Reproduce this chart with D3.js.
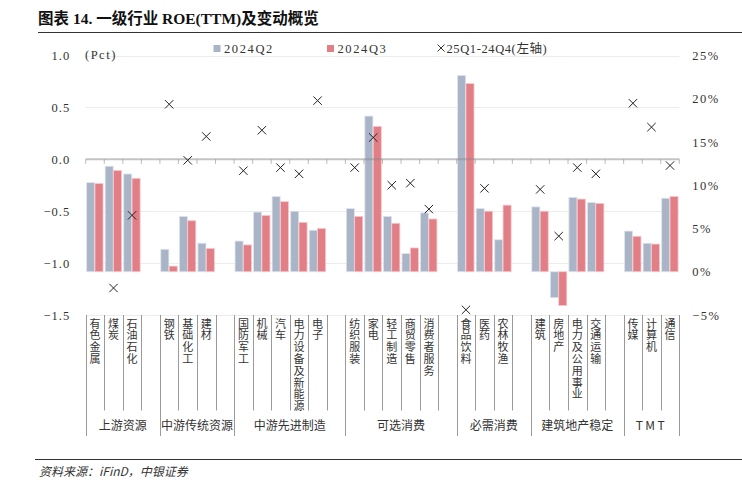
<!DOCTYPE html>
<html><head><meta charset="utf-8">
<script src="https://cdn.jsdelivr.net/npm/d3@7/dist/d3.min.js"></script>
<style>
html,body{margin:0;padding:0;background:#fff;}
svg{display:block;}
.vt{writing-mode:vertical-rl;text-orientation:upright;}
</style></head>
<body>
<svg id="chart" width="742" height="480"></svg>
<script>
// ---- data ----
const categories = ["有色金属","煤炭","石油石化","钢铁","基础化工","建材","国防军工","机械","汽车","电力设备及新能源","电子","纺织服装","家电","轻工制造","商贸零售","消费者服务","食品饮料","医药","农林牧渔","建筑","房地产","电力及公用事业","交通运输","传媒","计算机","通信"];
const groupNames = ["上游资源","中游传统资源","中游先进制造","可选消费","必需消费","建筑地产稳定","TMT"];
const groupSizes = [3,3,5,5,3,4,3];
const roeQ2 = [10.3,12.2,11.3, 2.6,6.4,3.3, 3.55,6.9,8.7,7.0,4.8, 7.3,18.0,6.4,2.1,6.8, 22.7,7.3,3.7, 7.5,-3.0,8.6,8.0, 4.7,3.3,8.5];
const roeQ3 = [10.2,11.7,10.8, 0.65,5.9,2.7, 3.1,6.5,8.1,5.7,5.0, 6.4,16.8,5.6,2.75,6.1, 21.75,7.0,7.7, 7.0,-3.9,8.4,7.9, 4.1,3.2,8.7];
const roeChange = [null,-1.24,-0.54, 0.53,-0.01,0.22, -0.11,0.28,-0.08,-0.14,0.565, -0.08,0.21,-0.25,-0.23,-0.48, -1.45,-0.28,null, -0.29,-0.74,-0.08,-0.14, 0.54,0.31,-0.06];
const seriesNames = ["2024Q2","2024Q3","25Q1-24Q4(左轴)"];
const leftTicks = [1.0,0.5,0.0,-0.5,-1.0,-1.5];
const rightTicks = [25,20,15,10,5,0,-5];

// ---- layout ----
const svg = d3.select("#chart");
const X0 = 85.7, X1 = 679.3, YTOP = 55.5, YBOT = 315;
const colQ2 = "#aab4c7", colQ3 = "#e17e86", txt = "#333";
const serif = "'Liberation Serif','Noto Sans CJK SC',serif";
const cjk = "'Noto Sans CJK SC','Liberation Serif',sans-serif";

// slots (with blank separators between groups)
const slots = [];
const groupSlots = [];
let ci = 0;
groupSizes.forEach((n, gi) => {
  const start = slots.length;
  for (let k = 0; k < n; k++) slots.push(categories[ci++]);
  if (gi < groupSizes.length - 1) slots.push("__blank" + gi);
  groupSlots.push([start, slots.length]);
});

const x = d3.scaleBand().domain(slots).range([X0, X1]).paddingInner(0).paddingOuter(0);
const xs = d3.scaleBand().domain([0,1]).range([0, x.bandwidth()]).paddingInner(0).paddingOuter(0.11);
const yL = d3.scaleLinear().domain([-1.5, 1.0]).range([YBOT, YTOP]);
const yR = d3.scaleLinear().domain([-5, 25]).range([YBOT, YTOP]);

// title
svg.append("text").attr("x", 38).attr("y", 24)
  .attr("font-family", serif).attr("font-weight", "bold").attr("font-size", 15.5)
  .attr("fill", "#111").text("图表 14. 一级行业 ROE(TTM)及变动概览");
svg.append("line").attr("x1", 38).attr("x2", 742).attr("y1", 32.5).attr("y2", 32.5)
  .attr("stroke", "#333").attr("stroke-width", 1);

// gridlines
svg.append("g").selectAll("line").data(leftTicks.filter(d => d !== 0)).join("line")
  .attr("x1", X0).attr("x2", X1)
  .attr("y1", d => Math.round(yL(d)) + 0.5).attr("y2", d => Math.round(yL(d)) + 0.5)
  .attr("stroke", "#ececec").attr("stroke-width", 1);

// left axis labels
const axL = svg.append("g").attr("transform", `translate(${X0},0)`)
  .call(d3.axisLeft(yL).tickValues(leftTicks).tickFormat(d3.format(".1f")).tickSize(0).tickPadding(15.5));
axL.select(".domain").remove();
axL.selectAll("text").attr("font-family", serif).attr("font-size", 12.5).attr("fill", txt).attr("letter-spacing", 1);

// right axis labels
const axR = svg.append("g").attr("transform", `translate(${X1},0)`)
  .call(d3.axisRight(yR).tickValues(rightTicks).tickFormat(d => d3.format("d")(d) + "%").tickSize(0).tickPadding(13));
axR.select(".domain").remove();
axR.selectAll("text").attr("font-family", serif).attr("font-size", 12.5).attr("fill", txt).attr("letter-spacing", 1.5);

svg.append("text").attr("x", 85).attr("y", 59).attr("font-family", serif).attr("font-size", 12.5)
  .attr("fill", txt).attr("letter-spacing", 1.5).text("(Pct)");

// bars
const barData = [];
categories.forEach((c, i) => {
  barData.push({c, s: 0, v: roeQ2[i]});
  barData.push({c, s: 1, v: roeQ3[i]});
});
svg.append("g").selectAll("rect").data(barData).join("rect")
  .attr("x", d => x(d.c) + xs(d.s))
  .attr("width", xs.bandwidth() - 0.3)
  .attr("y", d => Math.min(yR(d.v), yR(0)))
  .attr("height", d => Math.abs(yR(d.v) - yR(0)))
  .attr("fill", d => d.s === 0 ? colQ2 : colQ3)
  .attr("stroke", d => d.s === 0 ? "#dfe4ee" : "#f4c9cc")
  .attr("stroke-width", 0.8);

// category axis line at left-axis zero
const y0 = yL(0);
svg.append("line").attr("x1", X0).attr("x2", X1).attr("y1", y0).attr("y2", y0)
  .attr("stroke", "#8a8a8a").attr("stroke-opacity", 0.5).attr("stroke-width", 2);
const tickXs = slots.map(s => x(s)).concat([X1]);
svg.append("g").selectAll("line").data(tickXs).join("line")
  .attr("x1", d => d).attr("x2", d => d).attr("y1", y0).attr("y2", y0 + 4.5)
  .attr("stroke", "#8a8a8a").attr("stroke-opacity", 0.6).attr("stroke-width", 1);

// crosses
const cs = 4.2;
const crossData = categories.map((c, i) => ({c, v: roeChange[i]})).filter(d => d.v !== null);
const cg = svg.append("g").selectAll("g").data(crossData).join("g")
  .attr("transform", d => `translate(${x(d.c) + x.bandwidth()/2},${yL(d.v)})`);
cg.append("path").attr("d", `M${-cs},${-cs}L${cs},${cs}M${-cs},${cs}L${cs},${-cs}`)
  .attr("stroke", "#222").attr("stroke-width", 1).attr("fill", "none");

// legend
const lg = svg.append("g");
lg.append("rect").attr("x", 213.5).attr("y", 45).attr("width", 7).attr("height", 7).attr("fill", colQ2);
lg.append("text").attr("x", 224).attr("y", 52.5).attr("font-family", serif).attr("font-size", 12.5)
  .attr("fill", txt).attr("letter-spacing", 1.6).text(seriesNames[0]);
lg.append("rect").attr("x", 327).attr("y", 45).attr("width", 7).attr("height", 7).attr("fill", colQ3);
lg.append("text").attr("x", 337.5).attr("y", 52.5).attr("font-family", serif).attr("font-size", 12.5)
  .attr("fill", txt).attr("letter-spacing", 1.6).text(seriesNames[1]);
lg.append("path").attr("d", `M437.5,44.5L444.5,51.5M437.5,51.5L444.5,44.5`).attr("stroke", "#333").attr("stroke-width", 1);
lg.append("text").attr("x", 446.5).attr("y", 52.5).attr("font-family", serif).attr("font-size", 12.5)
  .attr("fill", txt).attr("letter-spacing", 0.6).text(seriesNames[2]);

// category separators (short) and group separators (long)
const groupStarts = new Set(groupSlots.map(g => g[0]).concat([slots.length]));
svg.append("g").selectAll("line").data(d3.range(slots.length + 1)).join("line")
  .attr("x1", i => Math.round(tickXs[i]) + 0.5).attr("x2", i => Math.round(tickXs[i]) + 0.5)
  .attr("y1", YBOT).attr("y2", i => groupStarts.has(i) ? 436 : 410.5)
  .attr("stroke", "#9a9a9a").attr("stroke-width", 1);

// vertical category labels
svg.append("g").selectAll("text").data(categories).join("text")
  .attr("class", "vt")
  .attr("x", c => x(c) + x.bandwidth()/2)
  .attr("y", 318)
  .attr("font-family", cjk).attr("font-size", 11).attr("fill", txt)
  .attr("letter-spacing", 0.8)
  .text(c => c);

// group labels
svg.append("g").selectAll("text").data(groupNames).join("text")
  .attr("x", (d, i) => (tickXs[groupSlots[i][0]] + tickXs[groupSlots[i][1]]) / 2)
  .attr("y", 430).attr("text-anchor", "middle")
  .attr("font-family", cjk).attr("font-size", 12).attr("fill", txt)
  .attr("letter-spacing", d => d === "TMT" ? 2.5 : 0)
  .text(d => d);

// footer
svg.append("line").attr("x1", 35).attr("x2", 742).attr("y1", 459.5).attr("y2", 459.5)
  .attr("stroke", "#333").attr("stroke-width", 1);
svg.append("text").attr("x", 39).attr("y", 476).attr("font-family", cjk).attr("font-size", 12)
  .attr("font-style", "italic").attr("fill", txt).text("资料来源：iFinD，中银证券");
</script>
</body></html>
